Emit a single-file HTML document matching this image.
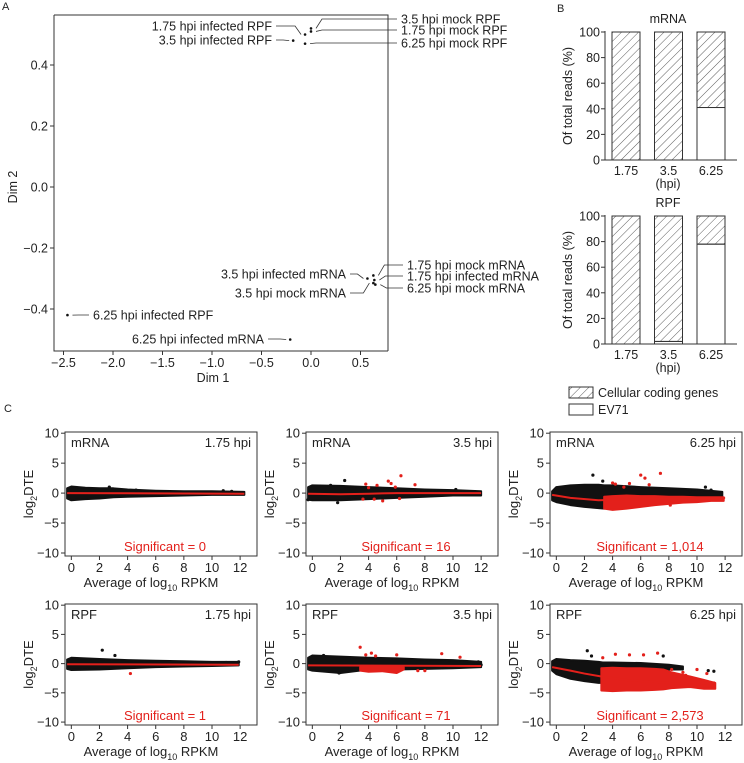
<!DOCTYPE html>
<html><head><meta charset="utf-8"><style>
body{margin:0;background:#fff}
svg{display:block;font-family:"Liberation Sans",Arial,sans-serif}
text{fill:#222}
</style></head><body>
<svg id="fig" width="744" height="763" viewBox="0 0 744 763" xmlns="http://www.w3.org/2000/svg">
<defs>
<pattern id="hatch" patternUnits="userSpaceOnUse" width="6" height="6" patternTransform="rotate(45)">
<line x1="0" y1="0" x2="0" y2="6" stroke="#333" stroke-width="0.8"/>
</pattern>
</defs>
<text x="2" y="10" font-size="11">A</text>
<text x="557" y="12" font-size="11">B</text>
<text x="4" y="412" font-size="11">C</text>
<g id="pA"></g>
<g id="pB"></g>
<g id="pC"></g>
</svg>
<script>
// ---------- Panel A data ----------
const mdsNames=["1.75 hpi infected RPF","3.5 hpi infected RPF","3.5 hpi mock RPF","1.75 hpi mock RPF","6.25 hpi mock RPF","3.5 hpi infected mRNA","3.5 hpi mock mRNA","1.75 hpi mock mRNA","1.75 hpi infected mRNA","6.25 hpi mock mRNA","6.25 hpi infected RPF","6.25 hpi infected mRNA"];
const mdsX=[-0.06,-0.18,0.0,0.0,-0.06,0.57,0.63,0.63,0.64,0.65,-2.46,-0.21];
const mdsY=[0.50,0.48,0.52,0.51,0.47,-0.30,-0.315,-0.29,-0.305,-0.32,-0.42,-0.50];
const mdsXTicks=[-2.5,-2.0,-1.5,-1.0,-0.5,0.0,0.5];
const mdsYTicks=[0.4,0.2,0.0,-0.2,-0.4];
// ---------- Panel B data ----------
const barCats=["1.75","3.5","6.25"];
const mrnaEV71=[0,0,41];
const rpfEV71=[0,2,78];
const barTicks=[0,20,40,60,80,100];
// ---------- Panel C data ----------
const maTitles=[["mRNA","1.75 hpi"],["mRNA","3.5 hpi"],["mRNA","6.25 hpi"],["RPF","1.75 hpi"],["RPF","3.5 hpi"],["RPF","6.25 hpi"]];
const maSig=["0","16","1,014","1","71","2,573"];
const cloudX=[[-0.3,0,1,2,3,4,6,8,10,12.3],[-0.3,0,2,4,6,8,10,12],[-0.3,0,1,2,3,3.4,4,6,8,10,11.8],[-0.3,0,2,4,6,8,10,11.9],[-0.3,0,2,4,6,8,10,12],[-0.3,0,1,2,3,3.3,4,6,8,9]];
const cloudUp=[[0.8,1.1,0.9,0.8,0.8,0.6,0.4,0.3,0.3,0.2],[1,1.3,1.2,1.0,0.8,0.6,0.5,0.3],[0.3,1.0,1.3,1.4,1.4,1.3,1.3,1.0,0.8,0.6,0.2],[0.7,1.0,0.8,0.6,0.5,0.4,0.3,0.3],[1,1.4,1.2,1.0,0.9,0.7,0.6,0.3],[0.4,0.8,0.6,0.5,0.3,0.2,0.2,0.1,-0.2,-0.5]];
const cloudLo=[[-0.9,-1.2,-1.0,-0.9,-0.7,-0.6,-0.5,-0.4,-0.3,-0.3],[-1.1,-1.2,-1.2,-1,-0.8,-0.6,-0.4,-0.4],[-1.2,-1.5,-2,-2.3,-2.5,-2.6,-1,-0.9,-0.8,-0.7,-0.8],[-0.9,-1.1,-1.0,-0.8,-0.6,-0.5,-0.4,-0.3],[-1,-1.2,-1.6,-1.0,-1.0,-0.9,-0.8,-0.6],[-1.2,-1.8,-2.6,-3.0,-3.3,-3.3,-0.8,-0.8,-1.0,-1.0]];
const redCloudX=[[],[],[3.4,4,5,6,7,8,9,10,11,11.9],[],[3.4,4,5,6,6.5],[3.2,4,5,6,7,7.6,8.2,9.5,10.5,11.3]];
const redCloudUp=[[],[],[-0.6,-0.5,-0.4,-0.5,-0.5,-0.6,-0.6,-0.7,-0.7,-0.7],[],[-0.6,-0.6,-0.6,-0.6,-0.6],[-0.8,-0.7,-0.8,-0.8,-0.9,-1.0,-1.5,-2.2,-2.8,-3.3]];
const redCloudLo=[[],[],[-2.6,-2.8,-2.6,-2.3,-2.0,-1.8,-1.6,-1.5,-1.3,-1.3],[],[-1.2,-1.4,-1.3,-1.6,-1.0],[-4.6,-4.7,-4.6,-4.6,-4.5,-4.4,-4.2,-4.0,-4.3,-4.3]];
const blackPtX=[[2.7,10.8,11.4,4.6],[1.3,2.3,-0.3,1.8,10.2,11.6],[2.6,3.3,10.6,11,9.5],[2.2,3.1,11.9,11],[0.8,1.9,11.8,12],[2.2,2.5,10.8,11.2,7.6]];
const blackPtY=[[1.0,0.4,0.3,0.5],[1.3,2.1,-1.1,-1.6,0.6,0.2],[3,2.0,1.0,0.5,0.4],[2.3,1.4,0.3,0.2],[1.4,-1.6,0.3,-0.2],[2.2,1.3,-1.2,-1.3,1.3]];
const redPtX=[[],[3.8,4.6,5.4,5.6,6.3,7.3,4.4,3.6,5,6.2,4.0,5.9],[4.0,4.2,5.2,6.0,6.3,7.4,6.6,8.1,4.8],[4.2],[3.4,3.8,4.2,4.5,6.0,9.2,10.5,7.5,8],[3.3,4.2,5.2,6.2,7.2,8.2,9.2,10,10.7,11.2,9.0,8.6]];
const redPtY=[[],[1.5,1.3,2.0,1.6,2.9,1.4,-1.0,-1.0,-1.3,-0.9,0.9,1.0],[1.7,1.5,1.6,3.0,2.5,3.3,1.4,-2.0,1.0],[-1.7],[2.8,1.5,1.8,1.3,1.5,1.7,1.1,-1.2,-1.2],[1.0,1.6,1.5,1.5,1.8,-1.0,-2.0,-1.0,-1.7,-3.3,-1.5,-2.6]];
const trendX=[[-0.3,12.3],[-0.3,2,4,6,12],[-0.3,1,3,6,12],[-0.3,11.9],[-0.3,12],[-0.3,1,2,3.2,5,8,11.3]];
const trendY=[[0,-0.1],[-0.1,-0.2,-0.1,0,0],[-0.3,-0.8,-1.2,-1.0,-0.8],[-0.1,-0.2],[-0.3,-0.4],[-0.6,-1.2,-1.7,-2.2,-2.8,-3.3,-3.8]];
const maXTicks=[0,2,4,6,8,10,12];
const maYTicks=[10,5,0,-5,-10];

const NS="http://www.w3.org/2000/svg";
function mk(parent,tag,attrs,txt){const e=document.createElementNS(NS,tag);for(const k in attrs)e.setAttribute(k,attrs[k]);if(txt!==undefined)e.textContent=txt;parent.appendChild(e);return e;}

// ===== Panel A =====
(function(){
const g=document.getElementById('pA');
const L=54,R=388,T=15,B=351;
const sx=v=>311+v*99, sy=v=>187-v*305;
const box=mk(g,'path',{d:`M${L},${T}H${R}V${B}M${L},${T}V${B}H${R}`,fill:'none',stroke:'#333','stroke-width':1});


mdsYTicks.forEach(t=>{const y=sy(t);mk(g,'line',{x1:L-4,x2:L,y1:y,y2:y,stroke:'#333'});
const tx=mk(g,'text',{x:L-6,y:y+4.5,'text-anchor':'end','font-size':12.5},t.toFixed(1).replace('-','\u2212'));
});
mdsXTicks.forEach(t=>{const x=sx(t);mk(g,'line',{x1:x,x2:x,y1:B,y2:B+4,stroke:'#333'});
const tx=mk(g,'text',{x:x,y:B+16,'text-anchor':'middle','font-size':12.5},t.toFixed(1).replace('-','\u2212'));
});
const xt=mk(g,'text',{x:213,y:382,'text-anchor':'middle','font-size':12.5},'Dim 1');

const yt=mk(g,'text',{x:0,y:0,'text-anchor':'middle','font-size':12.5,transform:'translate(17,187) rotate(-90)'},'Dim 2');

const lab=[[273,26,'end'],[273,40,'end'],[400,19,'start'],[400,30,'start'],[400,43,'start'],[347,274,'end'],[347,293,'end'],[406,265,'start'],[406,276,'start'],[406,288,'start'],[92,315,'start'],[265,339,'end']];
mdsNames.forEach((n,i)=>{
const px=sx(mdsX[i]),py=sy(mdsY[i]);
const [lx,ly,an]=lab[i];
const ex=an==='end'?lx+3:lx-3;
const bx=an==='end'?px-4:px+5;
mk(g,'polyline',{points:`${ex},${ly} ${bx-(an==='end'?6:-6)},${ly} ${bx},${py}`,fill:'none',stroke:'#333','stroke-width':0.8});
const d=mk(g,'circle',{cx:px,cy:py,r:1.3,fill:'#111'});

const t=mk(g,'text',{x:an==='end'?lx-1:lx+1,y:ly+4.5,'text-anchor':an,'font-size':12.5},n);

});
})();

// ===== Panel B =====
(function(){
const g=document.getElementById('pB');
function chart(top0,y100,vals,title,nm){
const sy=v=>top0-(top0-y100)*v/100;
const L=605;
const cg=mk(g,'g',{});

const tt=mk(cg,'text',{x:668,y:y100-9,'text-anchor':'middle','font-size':12.5},title);

mk(cg,'line',{x1:L,x2:L,y1:y100-1,y2:top0,stroke:'#333'});
mk(cg,'line',{x1:L,x2:737,y1:top0,y2:top0,stroke:'#333'});
barTicks.forEach(t=>{const y=sy(t);mk(cg,'line',{x1:L-4,x2:L,y1:y,y2:y,stroke:'#333'});
const tx=mk(cg,'text',{x:L-5,y:y+4.5,'text-anchor':'end','font-size':12.5},String(t));
});
const yl=mk(cg,'text',{x:0,y:0,'text-anchor':'middle','font-size':12.5,transform:`translate(${L-33},${(top0+y100)/2}) rotate(-90)`},'Of total reads (%)');

barCats.forEach((c,i)=>{
const x=612+i*42.5,w=28;
const ev=mk(cg,'rect',{x:x,y:sy(vals[i]),width:w,height:top0-sy(vals[i]),fill:'#fff',stroke:'#333'});

const ce=mk(cg,'rect',{x:x,y:sy(100),width:w,height:sy(vals[i])-sy(100),fill:'url(#hatch)',stroke:'#333'});

const tx=mk(cg,'text',{x:x+w/2,y:top0+15,'text-anchor':'middle','font-size':12.5},c);

});
const h=mk(cg,'text',{x:668,y:top0+28,'text-anchor':'middle','font-size':12.5},'(hpi)');

}
chart(160,32,mrnaEV71,'mRNA','mrna-bar-chart');
chart(344,216,rpfEV71,'RPF','rpf-bar-chart');
const lg=mk(g,'g',{});

const r1=mk(lg,'rect',{x:569,y:387,width:24,height:11,fill:'url(#hatch)',stroke:'#333'});

const t1=mk(lg,'text',{x:598,y:397,'font-size':12.5},'Cellular coding genes');

const r2=mk(lg,'rect',{x:569,y:404,width:24,height:11,fill:'#fff',stroke:'#333'});

const t2=mk(lg,'text',{x:598,y:414,'font-size':12.5},'EV71');

})();

// ===== Panel C =====
(function(){
const g=document.getElementById('pC');
const cols=[65,306,550],rows=[[432,124],[604,121]],W=192;
const RED='#e3201b';
for(let p=0;p<6;p++){
const L=cols[p%3],[T,H]=rows[Math.floor(p/3)];
const sx=v=>L+(v+0.45)/13.65*W, sy=v=>T+(10.2-v)/20.7*H;
const pg=mk(g,'g',{});


const clip='clip'+p;
const cp=mk(pg,'clipPath',{id:clip});mk(cp,'rect',{x:L,y:T,width:W,height:H});
const inner=mk(pg,'g',{'clip-path':`url(#${clip})`});
function band(xs,up,lo,col,name){if(!xs.length)return;
let d='M'+xs.map((x,i)=>sx(x)+','+sy(up[i])).join('L');
for(let i=xs.length-1;i>=0;i--)d+='L'+sx(xs[i])+','+sy(lo[i]);
const e=mk(inner,'path',{d:d+'Z',fill:col,stroke:col,'stroke-width':2,'stroke-linejoin':'round'});
}
band(cloudX[p],cloudUp[p],cloudLo[p],'#111','gene-cloud');
band(redCloudX[p],redCloudUp[p],redCloudLo[p],RED,'significant-gene-cloud');
blackPtX[p].forEach((x,i)=>{const c=mk(inner,'circle',{cx:sx(x),cy:sy(blackPtY[p][i]),r:1.6,fill:'#111'});
});
redPtX[p].forEach((x,i)=>{const c=mk(inner,'circle',{cx:sx(x),cy:sy(redPtY[p][i]),r:1.6,fill:RED});
});
const tl=mk(inner,'polyline',{points:trendX[p].map((x,i)=>sx(x)+','+sy(trendY[p][i])).join(' '),fill:'none',stroke:RED,'stroke-width':2});

const fr=mk(pg,'rect',{x:L,y:T,width:W,height:H,fill:'none',stroke:'#333','stroke-width':1});

maYTicks.forEach(t=>{const y=sy(t);mk(pg,'line',{x1:L-4,x2:L,y1:y,y2:y,stroke:'#333'});
const tx=mk(pg,'text',{x:L-6,y:y+4.5,'text-anchor':'end','font-size':13},String(t).replace('-','\u2212'));
});
maXTicks.forEach(t=>{const x=sx(t);mk(pg,'line',{x1:x,x2:x,y1:T+H,y2:T+H+4,stroke:'#333'});
const tx=mk(pg,'text',{x:x,y:T+H+16,'text-anchor':'middle','font-size':13},String(t));
});
const xt=mk(pg,'text',{x:L+W/2-10,y:T+H+31,'text-anchor':'middle','font-size':13});

xt.appendChild(document.createTextNode('Average of log'));
mk(xt,'tspan',{'font-size':9,dy:4},'10');
mk(xt,'tspan',{dy:-4},' RPKM');
const yt=mk(pg,'text',{x:0,y:0,'text-anchor':'middle','font-size':13,transform:`translate(${L-32},${T+H/2}) rotate(-90)`});

yt.appendChild(document.createTextNode('log'));
mk(yt,'tspan',{'font-size':9,dy:4},'2');
mk(yt,'tspan',{dy:-4},'DTE');
const a=mk(pg,'text',{x:L+6,y:T+15,'font-size':13},maTitles[p][0]);

const b=mk(pg,'text',{x:L+W-6,y:T+15,'text-anchor':'end','font-size':13},maTitles[p][1]);

const s=mk(pg,'text',{x:L+100,y:T+H-5,'text-anchor':'middle','font-size':13,style:'fill:'+RED},'Significant = '+maSig[p]);

}
})();
</script>
</body></html>
